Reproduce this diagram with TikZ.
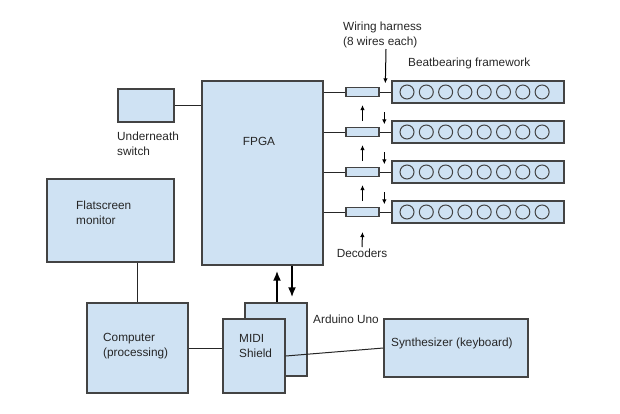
\documentclass[tikz,border=0pt]{standalone}
\usepackage{fontspec}
\setmainfont{Liberation Sans}
\usetikzlibrary{arrows.meta}

\definecolor{boxfill}{HTML}{CFE2F3}
\definecolor{boxline}{HTML}{434343}
\definecolor{inktext}{HTML}{262626}

\begin{document}
\begin{tikzpicture}[x=1pt,y=-1pt,
    box/.style={draw=boxline,fill=boxfill,line width=1.3pt,rectangle,inner sep=0pt},
    ball/.style={draw=boxline,circle,line width=1pt,minimum size=14pt,inner sep=0pt},
    txt/.style={font=\fontsize{11.8}{15}\selectfont,text=inktext,inner sep=0pt,align=left},
    wire/.style={draw=black!85,line width=1pt},
    bigarrow/.style={draw=black,line width=2pt,-{Latex[length=10pt,width=8pt]},shorten >=5pt},
    tinyarrow/.style={draw=black,line width=1pt,-{Latex[length=5pt,width=4.5pt]}}]
  \useasboundingbox (0,0) rectangle (620,413);

  % main boxes
  \node[box,minimum width=121pt,minimum height=184pt] (fpga) at (262.5,173) {};
  \node[box,minimum width=56pt,minimum height=33pt] (switch) at (146,105.5) {};
  \node[box,minimum width=127pt,minimum height=83pt] (monitor) at (110.5,220.5) {};
  \node[box,minimum width=101pt,minimum height=90pt] (computer) at (137.5,348) {};
  \node[box,minimum width=62pt,minimum height=73pt] (arduino) at (276,339.5) {};
  \node[box,minimum width=62pt,minimum height=74pt] (midi) at (254,356) {};
  \node[box,minimum width=144pt,minimum height=58pt] (synth) at (456,348) {};

  % decoders and beatbearing rows
  \foreach \r [count=\i] in {92,132,172,212}
    {
    \node[box,line width=1.1pt,minimum width=33pt,minimum height=9pt] (dec\i) at (362.5,\r) {};
    \node[box,minimum width=172pt,minimum height=22pt] (bar\i) at (478,\r) {};
    \foreach \c in {0,...,7}
      {
      \node[ball] (ball\i\c) at ({407+19.3*\c},\r) {};
      }
    \draw[wire] (dec\i.west -| fpga.east) -- (dec\i.west);
    \draw[wire] (dec\i.east) -- (bar\i.west);
    }

  % signal arrows between the rows
  \foreach \i in {1,2,3}
    {
    \draw[tinyarrow] ([yshift=-24pt]dec\i.south) -- ([yshift=-8pt]dec\i.south);
    }
  \foreach \i in {2,3,4}
    {
    \draw[tinyarrow] ([shift={(-7pt,8pt)}]bar\i.north west) -- ([shift={(-7pt,-4pt)}]bar\i.north west);
    }
  \coordinate (declabel) at (362,247);
  \draw[tinyarrow] (declabel) -- ([yshift=-15pt]dec4.south);
  \coordinate (harness) at (386,49);
  \draw[tinyarrow] (harness) -- ([shift={(-6pt,-3pt)}]bar1.north west);

  % connectors
  \draw[wire] (switch.east) -- (switch.east -| fpga.west);
  \draw[wire] (computer.north |- monitor.south) -- (computer.north);
  \draw[wire] (computer.east) -- (computer.east -| midi.west);
  \draw[wire] (midi.east) -- (synth.west);
  \draw[bigarrow] ([xshift=1pt]arduino.north) -- ([xshift=1pt]arduino.north |- fpga.south);
  \draw[bigarrow] ([xshift=16pt]arduino.north |- fpga.south) -- ([xshift=16pt]arduino.north);

  % labels
  \node[txt] (fpgatext) at (259,141) {FPGA};
  \node[txt,anchor=west] (switchtext) at (117,143.5) {Underneath\\switch};
  \node[txt,anchor=west] (monitortext) at (76,212.5) {Flatscreen\\monitor};
  \node[txt,anchor=west] (computertext) at (103,346) {Computer\\(processing)};
  \node[txt,anchor=west] (miditext) at (239,346) {MIDI\\Shield};
  \node[txt,anchor=west] (arduinotext) at (313,319) {Arduino Uno};
  \node[txt,anchor=west] (synthtext) at (391,343) {Synthesizer (keyboard)};
  \node[txt,anchor=west] (harnesstext) at (343,35) {Wiring harness\\(8 wires each)};
  \node[txt,anchor=west] (frametext) at (408,63) {Beatbearing framework};
  \node[txt,below=2pt] (dectext) at (declabel) {Decoders};
\end{tikzpicture}
\end{document}
